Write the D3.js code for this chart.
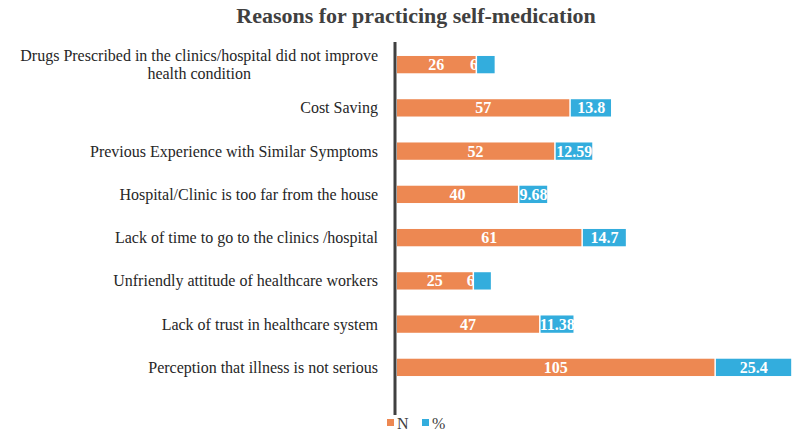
<!DOCTYPE html>
<html>
<head>
<meta charset="utf-8">
<script src="https://cdn.jsdelivr.net/npm/d3@7"></script>
<style>
  body { margin: 0; background: #fff; }
  svg { display: block; font-family: "Liberation Serif", "Times New Roman", serif; }
</style>
</head>
<body>
<div id="chart"></div>
<script>
const width = 794;
const height = 440;

// reasons, top to bottom
const reasons = [
    "Drugs Prescribed in the clinics/hospital did not improve|health condition",
    "Cost Saving",
    "Previous Experience with Similar Symptoms",
    "Hospital/Clinic is too far from the house",
    "Lack of time to go to the clinics /hospital",
    "Unfriendly attitude of healthcare workers",
    "Lack of trust in healthcare system",
    "Perception that illness is not serious"
];
const countN = [26, 57, 52, 40, 61, 25, 47, 105];
const percent = [6.3, 13.8, 12.59, 9.68, 14.7, 6.05, 11.38, 25.4];
const seriesNames = ["N", "%"];
const colors = ["#ED8852", "#33ADDD"];

const rows = reasons.map((r, i) => ({ reason: r, n: countN[i], p: percent[i] }));

const svg = d3.select("#chart").append("svg")
    .attr("width", width)
    .attr("height", height);

const x = d3.scaleLinear().domain([0, 131]).range([397, 793]);
const y = d3.scaleBand().domain(reasons).range([43, 389]).paddingInner(0.6).paddingOuter(0.3);

svg.append("text")
    .attr("x", 416)
    .attr("y", 23)
    .attr("text-anchor", "middle")
    .attr("font-size", 22)
    .attr("font-weight", "bold")
    .attr("fill", "#404040")
    .text("Reasons for practicing self-medication");

// category labels (multi-line labels are centered on their widest line)
const labels = svg.append("g");
rows.forEach(d => {
    const lines = d.reason.split("|");
    const cy = y(d.reason) + y.bandwidth() / 2;
    const g = labels.append("g");
    const lh = 18;
    const texts = lines.map((ln, k) => g.append("text")
        .attr("y", cy + (k - (lines.length - 1) / 2) * lh)
        .attr("dy", "0.35em")
        .attr("font-size", 16)
        .attr("fill", "#262626")
        .text(ln));
    const w = d3.max(texts, t => t.node().getComputedTextLength());
    texts.forEach(t => t.attr("x", 378 - w / 2).attr("text-anchor", "middle"));
});

// N bars
svg.append("g").selectAll("rect").data(rows).join("rect")
    .attr("x", x(0))
    .attr("y", d => y(d.reason))
    .attr("width", d => x(d.n) - x(0))
    .attr("height", y.bandwidth())
    .attr("fill", colors[0]);

const valueLabel = (sel) => sel
    .attr("text-anchor", "middle")
    .attr("dy", "0.35em")
    .attr("font-size", 16)
    .attr("font-weight", "bold")
    .attr("fill", "#fff");

svg.append("g").selectAll("text").data(rows).join("text")
    .attr("x", d => (x(0) + x(d.n)) / 2)
    .attr("y", d => y(d.reason) + y.bandwidth() / 2)
    .call(valueLabel)
    .text(d => d.n);

// % labels that are too wide for their segment end up underneath the % bar
const fits = d => (x(d.n + d.p) - x(d.n)) > 26;
svg.append("g").selectAll("text").data(rows.filter(d => !fits(d))).join("text")
    .attr("x", d => (x(d.n) + x(d.n + d.p)) / 2 - 1)
    .attr("y", d => y(d.reason) + y.bandwidth() / 2)
    .call(valueLabel)
    .text(d => d.p.toFixed(2));

// % bars
svg.append("g").selectAll("rect").data(rows).join("rect")
    .attr("x", d => x(d.n) + 1.5)
    .attr("y", d => y(d.reason))
    .attr("width", d => x(d.n + d.p) - x(d.n) - 1.5)
    .attr("height", y.bandwidth())
    .attr("fill", colors[1]);

svg.append("g").selectAll("text").data(rows.filter(fits)).join("text")
    .attr("x", d => (x(d.n) + x(d.n + d.p)) / 2 + 1)
    .attr("y", d => y(d.reason) + y.bandwidth() / 2)
    .call(valueLabel)
    .text(d => d.p);

// vertical axis line
svg.append("line")
    .attr("x1", 395).attr("x2", 395)
    .attr("y1", 42).attr("y2", 415)
    .attr("stroke", "#404040")
    .attr("stroke-width", 3);

// legend
const legend = svg.append("g");
const legendX = [387, 422];
seriesNames.forEach((s, i) => {
    legend.append("rect")
        .attr("x", legendX[i]).attr("y", 419)
        .attr("width", 7).attr("height", 7)
        .attr("fill", colors[i]);
    legend.append("text")
        .attr("x", legendX[i] + 10).attr("y", 423)
        .attr("dy", "0.35em")
        .attr("font-size", 16)
        .attr("fill", "#404040")
        .text(s);
});
</script>
</body>
</html>
